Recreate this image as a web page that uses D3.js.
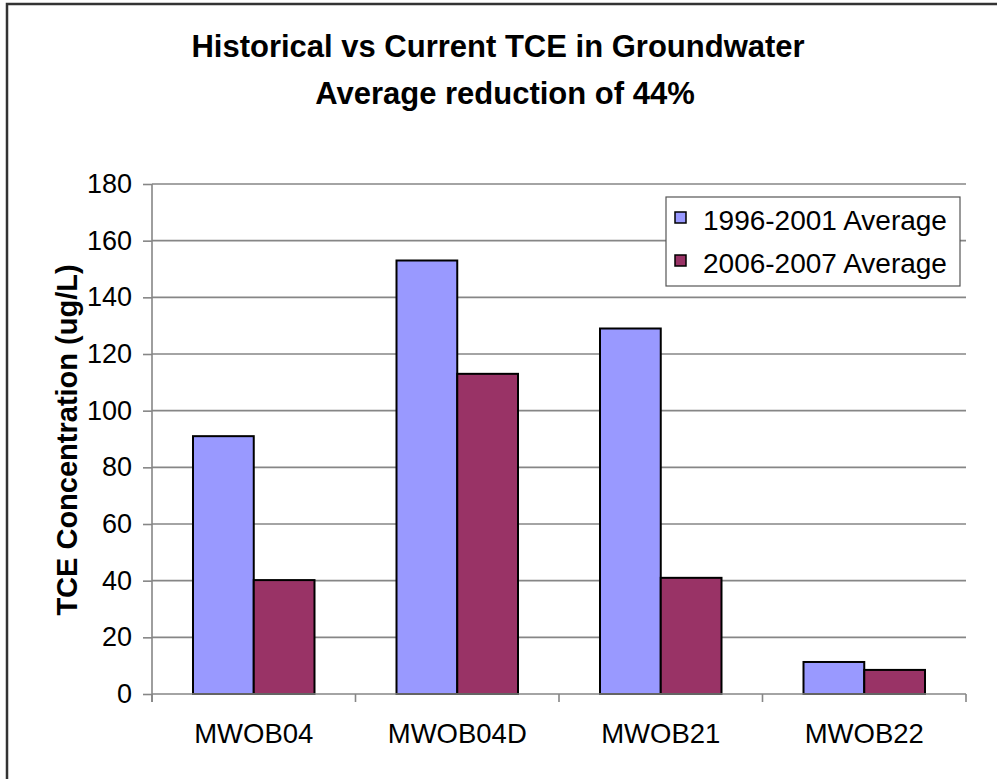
<!DOCTYPE html>
<html>
<head>
<meta charset="utf-8">
<script src="https://cdn.jsdelivr.net/npm/d3@7"></script>
<style>
  html, body { margin: 0; padding: 0; background: #fff; }
  svg { display: block; font-family: "Liberation Sans", Arial, sans-serif; }
</style>
</head>
<body>
<div id="chart"></div>
<script>
// chart data
var categories = ["MWOB04", "MWOB04D", "MWOB21", "MWOB22"];
var seriesNames = ["1996-2001 Average", "2006-2007 Average"];
var historical = [91, 153, 129, 11.3];
var current = [40.2, 113, 41, 8.5];
var yTicks = [0, 20, 40, 60, 80, 100, 120, 140, 160, 180];
var colors = ["#9999ff", "#993366"];

var W = 997, H = 779;
var plotLeft = 152, plotRight = 966, plotTop = 184, plotBottom = 694;

var svg = d3.select("#chart").append("svg")
  .attr("width", W)
  .attr("height", H);

// outer frame (cropped on right/bottom)
svg.append("rect")
  .attr("x", 7).attr("y", 4)
  .attr("width", W + 20).attr("height", H + 20)
  .attr("fill", "#fff")
  .attr("stroke", "#333")
  .attr("stroke-width", 2.5);

var y = d3.scaleLinear().domain([0, 180]).range([plotBottom, plotTop]);
var x0 = d3.scaleBand().domain(categories).range([plotLeft, plotRight]).paddingInner(0).paddingOuter(0);
var x1 = d3.scaleBand().domain(seriesNames).range([0, x0.bandwidth()]).paddingInner(0).paddingOuter(0.675);

// gridlines
svg.append("g").selectAll("line")
  .data(yTicks.filter(function(d) { return d > 0; }))
  .enter().append("line")
  .attr("x1", plotLeft).attr("x2", plotRight)
  .attr("y1", function(d) { return y(d); })
  .attr("y2", function(d) { return y(d); })
  .attr("stroke", "#868686")
  .attr("stroke-width", 1.6);

// y axis
var yAxis = svg.append("g")
  .attr("transform", "translate(" + plotLeft + ",0)")
  .call(d3.axisLeft(y).tickValues(yTicks).tickSize(9).tickPadding(11));
yAxis.select(".domain").remove();
yAxis.append("line")
  .attr("x1", 0).attr("x2", 0)
  .attr("y1", plotTop).attr("y2", plotBottom + 8)
  .attr("stroke", "#868686").attr("stroke-width", 1.6);
yAxis.selectAll(".tick line").attr("stroke", "#868686").attr("stroke-width", 1.6);
yAxis.selectAll(".tick text")
  .attr("fill", "#000")
  .style("font-size", "27px")
  .style("font-family", "Liberation Sans, Arial, sans-serif");

// bars
var series = [historical, current];
var groups = svg.append("g").selectAll("g")
  .data(categories)
  .enter().append("g")
  .attr("transform", function(d) { return "translate(" + x0(d) + ",0)"; });

groups.selectAll("rect")
  .data(function(d, i) {
    return seriesNames.map(function(s, j) { return { key: s, value: series[j][i], color: colors[j] }; });
  })
  .enter().append("rect")
  .attr("x", function(d) { return x1(d.key); })
  .attr("width", x1.bandwidth())
  .attr("y", function(d) { return y(d.value); })
  .attr("height", function(d) { return y(0) - y(d.value); })
  .attr("fill", function(d) { return d.color; })
  .attr("stroke", "#000")
  .attr("stroke-width", 2);

// x axis
var xAxis = svg.append("g")
  .attr("transform", "translate(0," + plotBottom + ")");
xAxis.append("line")
  .attr("x1", plotLeft).attr("x2", plotRight)
  .attr("stroke", "#868686").attr("stroke-width", 1.6);
xAxis.selectAll("line.tk")
  .data(categories.concat(["end"]))
  .enter().append("line")
  .attr("class", "tk")
  .attr("x1", function(d, i) { return plotLeft + i * x0.step(); })
  .attr("x2", function(d, i) { return plotLeft + i * x0.step(); })
  .attr("y1", 0).attr("y2", 8)
  .attr("stroke", "#868686").attr("stroke-width", 1.6);
xAxis.selectAll("text")
  .data(categories)
  .enter().append("text")
  .attr("x", function(d) { return x0(d) + x0.bandwidth() / 2; })
  .attr("y", 49)
  .attr("text-anchor", "middle")
  .style("font-size", "27.5px")
  .text(function(d) { return d; });

// title
var title = svg.append("text")
  .attr("text-anchor", "middle")
  .style("font-size", "31px")
  .style("font-weight", "bold");
title.append("tspan").attr("x", 498).attr("y", 57).text("Historical vs Current TCE in Groundwater");
title.append("tspan").attr("x", 505).attr("y", 104).text("Average reduction of 44%");

// y axis title
svg.append("text")
  .attr("transform", "translate(77,440) rotate(-90)")
  .attr("text-anchor", "middle")
  .style("font-size", "29px")
  .style("font-weight", "bold")
  .text("TCE Concentration (ug/L)");

// legend
var legend = svg.append("g").attr("transform", "translate(666,197)");
legend.append("rect")
  .attr("width", 294).attr("height", 89)
  .attr("fill", "#fff")
  .attr("stroke", "#555")
  .attr("stroke-width", 1.2);
var items = legend.selectAll("g.item")
  .data(seriesNames)
  .enter().append("g")
  .attr("class", "item")
  .attr("transform", function(d, i) { return "translate(0," + (i * 43) + ")"; });
items.append("rect")
  .attr("x", 9).attr("y", 15)
  .attr("width", 11).attr("height", 11)
  .attr("fill", function(d, i) { return colors[i]; })
  .attr("stroke", "#000")
  .attr("stroke-width", 1.5);
items.append("text")
  .attr("x", 37).attr("y", 33)
  .style("font-size", "28px")
  .text(function(d) { return d; });
</script>
</body>
</html>
